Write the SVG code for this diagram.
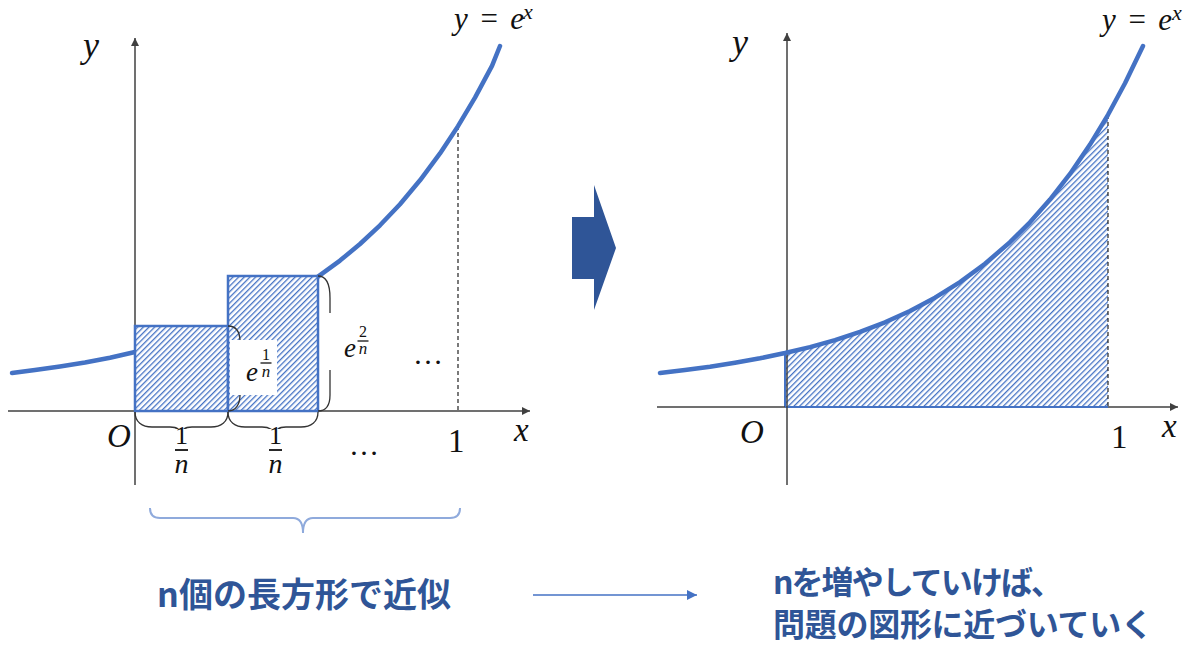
<svg xmlns="http://www.w3.org/2000/svg" width="1200" height="664" viewBox="0 0 1200 664">
<style>
.axis{stroke:#404040;stroke-width:1.5;fill:none}
.curve{stroke:#4472C4;stroke-width:4.5;fill:none;stroke-linecap:round;stroke-linejoin:round}
.rect{fill:url(#hatch);stroke:#4472C4;stroke-width:2.5}
.dash{stroke:#222;stroke-width:1.2;stroke-dasharray:4 3;fill:none}
.brace{stroke:#333;stroke-width:1.3;fill:none}
.math{font-family:"Liberation Serif","DejaVu Serif",serif;font-style:italic;fill:#111}
.num{font-family:"Liberation Serif","DejaVu Serif",serif;fill:#111}
.jp{font-family:"Noto Sans CJK JP","Noto Sans",sans-serif;font-weight:bold;fill:#2F5597}
.wb{fill:#fff}
</style>
<defs>
<pattern id="hatch" patternUnits="userSpaceOnUse" width="4" height="4" patternTransform="rotate(45)">
<rect width="4" height="4" fill="#ffffff"/>
<rect x="0" y="0" width="1.3" height="4" fill="#4472C4"/>
</pattern>
<marker id="ah" viewBox="0 0 10 10" refX="10" refY="5" markerWidth="8" markerHeight="8" markerUnits="userSpaceOnUse" orient="auto">
<path d="M0,0 L10,5 L0,10 Z" fill="#404040"/>
</marker>
<marker id="ahb" viewBox="0 0 10 10" refX="10" refY="5" markerWidth="10" markerHeight="10" markerUnits="userSpaceOnUse" orient="auto">
<path d="M0,0 L10,5 L0,10 Z" fill="#4472C4"/>
</marker>
</defs>

<g id="left-graph">
<g id="left-axes">
<path class="axis" d="M135,485 L135,38" marker-end="url(#ah)"/>
<path class="axis" d="M8,411 L530,411" marker-end="url(#ah)"/>
<path class="dash" d="M458,126 L458,411"/>
</g>
<g id="left-curve">
<polyline class="curve" points="12,373 35,370 60,366.5 85,362.5 110,357.8 135,352"/>
<polyline class="curve" points="318,276.6 340,260.6 360,244 380,225.3 400,204.2 420,180.3 440,153.4 458,126.2 475,97.6 492,65.9 500,46"/>
</g>
<g id="rects">
<rect class="rect" x="135" y="326" width="93" height="85"/>
<rect class="rect" x="228" y="276" width="90" height="135"/>
</g>
<g id="braces">
<path class="brace" d="M135,412 C135,422 142,427 152,427 L170,427 C177,427 181,430 181,436 C181,430 185,427 192,427 L211,427 C221,427 228,422 228,412"/>
<path class="brace" d="M228,412 C228,422 235,427 245,427 L262,427 C269,427 275,430 275,436 C275,430 279,427 286,427 L301,427 C311,427 318,422 318,412"/>
<path class="brace" d="M228,326 C236,326 240,332 240,342 L240,360 C240,365 243,368 247,368 C243,368 240,371 240,376 L240,395 C240,404 236,411 228,411"/>
<path class="brace" d="M318,276 C326,276 330,284 330,298 L330,330 C330,338 333,343 338,343 C333,343 330,348 330,356 L330,395 C330,405 326,411 318,411"/>
</g>
<g id="left-labels">
<rect class="wb" x="164" y="429" width="36" height="48"/>
<rect class="wb" x="257" y="429" width="36" height="48"/>
<rect class="wb" x="230" y="340" width="47" height="55"/>
<rect class="wb" x="327" y="313" width="50" height="57"/>
<text class="math" x="83" y="57" font-size="36">y</text>
<text class="math" x="454" y="29" font-size="31" word-spacing="3">y = e</text>
<text class="math" x="523" y="19" font-size="22">x</text>
<text class="math" x="107" y="447" font-size="33">O</text>
<text class="num" x="448" y="452" font-size="33">1</text>
<text class="math" x="514" y="441" font-size="33">x</text>
<text class="num" x="413" y="364" font-size="30">…</text>
<text class="num" x="349" y="455" font-size="30">…</text>
<text class="num" x="181.5" y="444" font-size="26" text-anchor="middle">1</text>
<line x1="175" y1="450" x2="188" y2="450" stroke="#111" stroke-width="1.8"/>
<text class="math" x="181.5" y="473" font-size="28" text-anchor="middle">n</text>
<text class="num" x="275.5" y="444" font-size="26" text-anchor="middle">1</text>
<line x1="269" y1="450" x2="282" y2="450" stroke="#111" stroke-width="1.8"/>
<text class="math" x="275.5" y="473" font-size="28" text-anchor="middle">n</text>
<text class="math" x="246" y="381" font-size="27">e</text>
<text class="num" x="266" y="360" font-size="16" text-anchor="middle">1</text>
<line x1="260.5" y1="363" x2="271.5" y2="363" stroke="#111" stroke-width="1.3"/>
<text class="math" x="266" y="377" font-size="17" text-anchor="middle">n</text>
<text class="math" x="344" y="357" font-size="27">e</text>
<text class="num" x="363" y="337" font-size="16" text-anchor="middle">2</text>
<line x1="357.5" y1="341" x2="368.5" y2="341" stroke="#111" stroke-width="1.3"/>
<text class="math" x="363" y="354" font-size="17" text-anchor="middle">n</text>
</g>
<g id="bottom-brace">
<path d="M150,508 Q150,518 160,518 L293,518 Q303,518 303,533 Q303,518 313,518 L450,518 Q460,518 460,508" stroke="#8FAADC" stroke-width="2" fill="none"/>
</g>
</g>

<g id="big-arrow">
<polygon points="572,217 594,217 594,185 616,248 594,310 594,279 572,279" fill="#2F5597"/>
</g>

<g id="right-graph">
<path id="right-area" d="M785,407 L785,353 L810,347.1 L835,340.1 L860,331.9 L885,322.3 L910,311 L935,297.7 L960,282.1 L985,263.7 L1010,242.2 L1030,222.3 L1050,199.6 L1070,173.9 L1090,144.6 L1108,114.8 L1108,407 Z" fill="url(#hatch)"/>
<path d="M785,407 L785,353 M785,407 L1108,407" stroke="#4472C4" stroke-width="2" fill="none"/>
<g id="right-axes">
<path class="axis" d="M787,485 L787,33" marker-end="url(#ah)"/>
<path class="axis" d="M1108,407 L1178,407" marker-end="url(#ah)"/>
<path class="axis" d="M657,407 L785,407"/>
<path class="dash" d="M1108,115 L1108,407"/>
</g>
<polyline id="right-curve" class="curve" points="660,373 685,370 710,366.8 735,362.8 760,358.3 785,353 810,347.1 835,340.1 860,331.9 885,322.3 910,311 935,297.7 960,282.1 985,263.7 1010,242.2 1030,222.3 1050,199.6 1070,173.9 1090,144.6 1108,114.8 1125,83.3 1143,46"/>
<g id="right-labels">
<text class="math" x="732" y="54" font-size="36">y</text>
<text class="math" x="1102" y="30" font-size="31" word-spacing="3">y = e</text>
<text class="math" x="1172" y="20" font-size="22">x</text>
<text class="math" x="740" y="443" font-size="33">O</text>
<text class="num" x="1111" y="448" font-size="33">1</text>
<text class="math" x="1162" y="437" font-size="33">x</text>
</g>
</g>

<g id="connectors">
<line x1="533" y1="595" x2="697" y2="595" stroke="#4472C4" stroke-width="1.5" marker-end="url(#ahb)"/>
</g>

<g id="captions">
<text id="cap-left" class="jp" x="304" y="607" font-size="34" text-anchor="middle">n個の長方形で近似</text>
<text id="cap-right-1" class="jp" x="773" y="594" font-size="32" textLength="290" lengthAdjust="spacing">nを増やしていけば、</text>
<text id="cap-right-2" class="jp" x="773" y="636" font-size="32" textLength="380" lengthAdjust="spacing">問題の図形に近づいていく</text>
</g>
</svg>
